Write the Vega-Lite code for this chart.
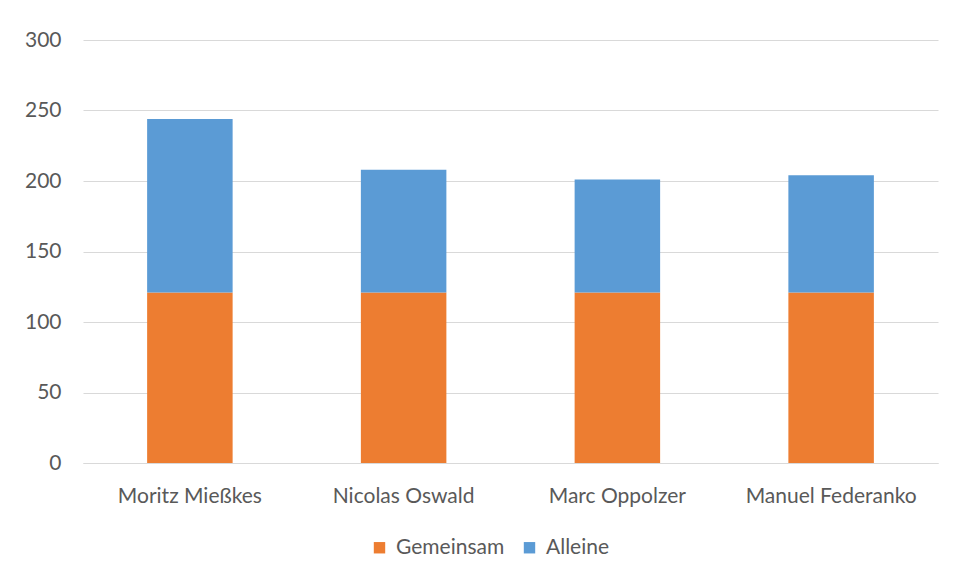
{
  "$schema": "https://vega.github.io/schema/vega-lite/v6.json",
  "autosize": {"type": "none"},
  "width": 855,
  "height": 423,
  "padding": {"left": 83, "top": 40, "right": 16, "bottom": 118},
  "background": "white",
  "config": {
    "view": {"stroke": null},
    "font": "Lato",
    "axis": {"labelFont": "Lato", "labelColor": "#595959", "labelFontSize": 21, "gridColor": "#D9D9D9", "gridWidth": 1.2, "ticks": false},
    "legend": {"labelFont": "Lato", "labelColor": "#595959", "labelFontSize": 21}
  },
  "data": {
    "values": [
      {"name": "Moritz Mießkes", "type": "Gemeinsam", "value": 121, "order": 1},
      {"name": "Moritz Mießkes", "type": "Alleine", "value": 123, "order": 2},
      {"name": "Nicolas Oswald", "type": "Gemeinsam", "value": 121, "order": 1},
      {"name": "Nicolas Oswald", "type": "Alleine", "value": 87, "order": 2},
      {"name": "Marc Oppolzer", "type": "Gemeinsam", "value": 121, "order": 1},
      {"name": "Marc Oppolzer", "type": "Alleine", "value": 80, "order": 2},
      {"name": "Manuel Federanko", "type": "Gemeinsam", "value": 121, "order": 1},
      {"name": "Manuel Federanko", "type": "Alleine", "value": 83, "order": 2}
    ]
  },
  "mark": {"type": "bar"},
  "encoding": {
    "x": {
      "field": "name", "type": "nominal", "sort": null, "title": null,
      "scale": {"paddingInner": 0.6, "paddingOuter": 0.3},
      "axis": {"labelAngle": 0, "domain": true, "domainColor": "#D9D9D9", "domainWidth": 1.2, "labelPadding": 22}
    },
    "y": {
      "field": "value", "type": "quantitative", "stack": "zero", "title": null,
      "scale": {"domain": [0, 300], "nice": false},
      "axis": {"values": [0, 50, 100, 150, 200, 250, 300], "domain": false, "labelPadding": 22}
    },
    "color": {
      "field": "type", "type": "nominal", "title": null,
      "scale": {"domain": ["Gemeinsam", "Alleine"], "range": ["#ED7D31", "#5B9BD5"]},
      "legend": {"orient": "none", "legendX": 286, "legendY": 497, "direction": "horizontal", "symbolType": "square", "symbolSize": 130, "symbolStrokeWidth": 0, "columnPadding": 14, "labelOffset": 6}
    },
    "order": {"field": "order", "type": "quantitative"}
  }
}
